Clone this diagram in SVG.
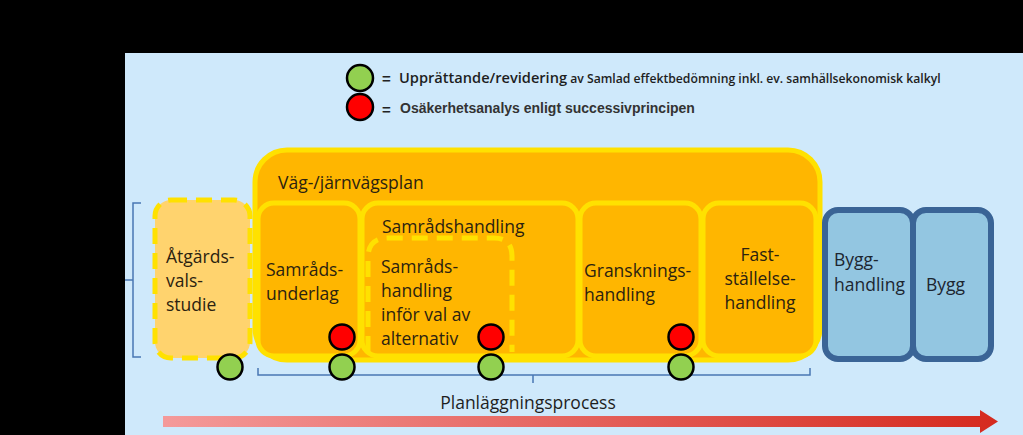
<svg xmlns="http://www.w3.org/2000/svg" width="1023" height="435" viewBox="0 0 1023 435">
<style>
.t{font-family:"Open Sans","Liberation Sans",sans-serif;font-size:17.5px;fill:#2b2210}
.tb{font-family:"Open Sans","Liberation Sans",sans-serif;font-size:17.5px;fill:#1c2530}
.box{fill:#FFB600;stroke:#FFE100;stroke-width:5}
.dash{fill:none;stroke:#FFE100;stroke-width:5;stroke-dasharray:16 9}
.blue{fill:#93C6E1;stroke:#3A6496;stroke-width:6}
.br{fill:none;stroke:#4A77B4;stroke-width:1.5}
.g{fill:#92D050;stroke:#000;stroke-width:2.5}
.r{fill:#FF0000;stroke:#000;stroke-width:2.5}
</style>
<defs>
<linearGradient id="arr" x1="0" y1="0" x2="1" y2="0">
<stop offset="0" stop-color="#F49A9A"/>
<stop offset="1" stop-color="#D52A1E"/>
</linearGradient>
</defs>
<rect width="1023" height="435" fill="#000"/>
<rect x="125" y="53" width="898" height="382" fill="#CFE9FB"/>

<g id="legend">
<circle class="g" cx="360" cy="78" r="13"/>
<circle class="r" cx="360" cy="107" r="13"/>
<text x="382" y="84" font-family="Liberation Sans,sans-serif" font-size="15" font-weight="bold" fill="#222">=</text>
<text x="382" y="115" font-family="Liberation Sans,sans-serif" font-size="15" font-weight="bold" fill="#222">=</text>
<text x="399" y="83" font-family="'Open Sans','Liberation Sans',sans-serif" font-weight="600" fill="#1e1e1e"><tspan font-size="14.6">Upprättande/revidering</tspan><tspan font-size="12.2"> av Samlad effektbedömning inkl. ev. samhällsekonomisk kalkyl</tspan></text>
<text x="400" y="113" font-family="'Liberation Sans',sans-serif" font-size="14" font-weight="bold" fill="#333">Osäkerhetsanalys enligt successivprincipen</text>
</g>

<g id="atgardsvalsstudie">
<rect x="155" y="200" width="95" height="158" rx="16" fill="#FFD36E"/>
<rect class="dash" x="155" y="200" width="95" height="158" rx="16"/>
<text class="t" x="166" y="263">Åtgärds-</text>
<text class="t" x="166" y="287">vals-</text>
<text class="t" x="166" y="311">studie</text>
</g>

<g id="vagplan">
<rect class="box" x="255" y="150" width="565" height="210" rx="32"/>
<text class="t" x="278" y="189">Väg-/järnvägsplan</text>
</g>

<g id="samradsunderlag">
<rect class="box" x="258" y="203" width="102" height="153" rx="16"/>
<text class="t" x="266" y="276">Samråds-</text>
<text class="t" x="266" y="300">underlag</text>
</g>

<g id="samradshandling">
<rect class="box" x="362" y="203" width="216" height="153" rx="16"/>
<text class="t" x="382" y="233">Samrådshandling</text>
</g>

<g id="samradshandling-val">
<path class="dash" d="M368 352 V258 Q368 238 388 238 H494 Q512 238 512 256 V352"/>
<text class="t" x="381" y="273">Samråds-</text>
<text class="t" x="381" y="297">handling</text>
<text class="t" x="381" y="321">inför val av</text>
<text class="t" x="381" y="345">alternativ</text>
</g>

<g id="granskningshandling">
<rect class="box" x="580" y="203" width="121" height="153" rx="16"/>
<text class="t" x="584" y="277">Gransknings-</text>
<text class="t" x="584" y="301">handling</text>
</g>

<g id="faststallelsehandling">
<rect class="box" x="703" y="203" width="113" height="153" rx="16"/>
<text class="t" x="760" y="261" text-anchor="middle">Fast-</text>
<text class="t" x="760" y="285" text-anchor="middle">ställelse-</text>
<text class="t" x="760" y="309" text-anchor="middle">handling</text>
</g>

<g id="bygghandling">
<rect class="blue" x="825" y="210" width="88" height="149" rx="13"/>
<text class="tb" x="834" y="266">Bygg-</text>
<text class="tb" x="834" y="291">handling</text>
</g>

<g id="bygg">
<rect class="blue" x="913" y="210" width="78" height="149" rx="13"/>
<text class="tb" x="926" y="291">Bygg</text>
</g>

<g id="connectors">
<path class="br" d="M141 203 H133 V357 H141 M133 280 H125"/>
<path class="br" d="M258 368 V375 H810 V368 M533 375 V383"/>
<path d="M163 416 H980 V410 L998 421.5 L980 433 V427 H163 Z" fill="url(#arr)"/>
</g>

<g id="markers">
<circle class="g" cx="230" cy="367" r="12.5"/>
<circle class="g" cx="342" cy="367" r="12.5"/>
<circle class="g" cx="491" cy="367" r="12.5"/>
<circle class="g" cx="681" cy="367" r="12.5"/>
<circle class="r" cx="342" cy="337" r="12.5"/>
<circle class="r" cx="491" cy="337" r="12.5"/>
<circle class="r" cx="681" cy="337" r="12.5"/>
</g>

<text x="528" y="409" text-anchor="middle" font-family="'Open Sans','Liberation Sans',sans-serif" font-size="17.5" fill="#1e1e1e">Planläggningsprocess</text>
</svg>
